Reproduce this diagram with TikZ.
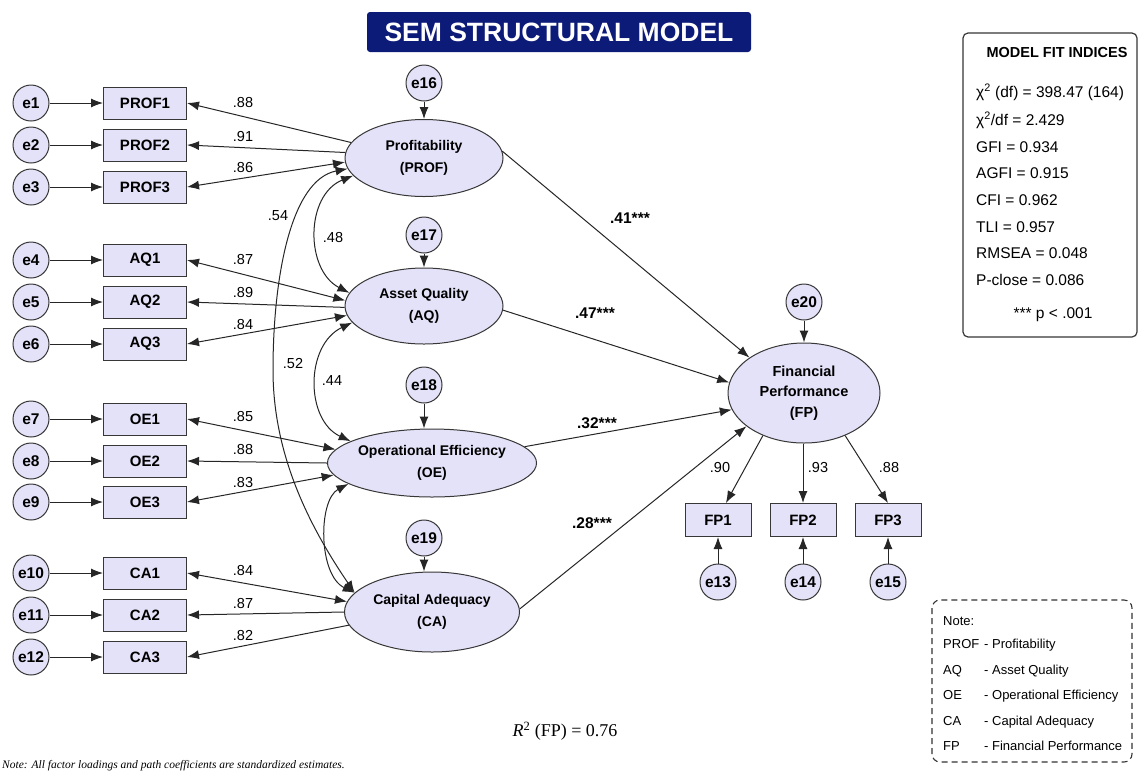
\documentclass[tikz,border=0pt]{standalone}
\usepackage{fontspec}
\setmainfont{Liberation Sans}
\newfontfamily\seriffont{Liberation Serif}
\usetikzlibrary{arrows.meta,shapes.geometric}
\definecolor{nodefill}{RGB}{228,226,248}
\definecolor{edgecol}{RGB}{55,55,55}
\definecolor{navy}{RGB}{12,26,120}
\begin{document}
\begin{tikzpicture}[x=1pt,y=-1pt,
  err/.style={circle,draw=edgecol,fill=nodefill,line width=1pt,minimum size=36pt,inner sep=0pt,font=\fontsize{15.5}{16}\selectfont\bfseries},
  obs/.style={rectangle,draw=edgecol,fill=nodefill,line width=1pt,minimum width=83pt,minimum height=32pt,inner sep=0pt,font=\fontsize{15}{16}\selectfont\bfseries},
  lat/.style={ellipse,draw=edgecol,fill=nodefill,line width=1pt,inner sep=0pt,align=center,font=\fontsize{14}{21.5}\selectfont\bfseries},
  arr/.style={-{Latex[length=12pt,width=9pt]},line width=1pt,draw=black!85},
  darr/.style={{Latex[length=12pt,width=9pt]}-{Latex[length=12pt,width=9pt]},line width=1pt,draw=black!85},
  lab/.style={font=\fontsize{14.5}{15}\selectfont,inner sep=0pt},
  blab/.style={font=\fontsize{15.5}{16}\selectfont\bfseries,inner sep=0pt},
  fit/.style={font=\fontsize{15.5}{16}\selectfont,anchor=base west,inner sep=0pt},
  notetxt/.style={font=\fontsize{13}{15}\selectfont,anchor=base west,inner sep=0pt},
]
\useasboundingbox (0,0) rectangle (1142,772);
\fill[white] (0,0) rectangle (1142,772);

% title
\node[fill=navy,rounded corners=3pt,minimum width=384pt,minimum height=40pt,inner sep=0pt,
  text=white,font=\fontsize{26.5}{28}\selectfont\bfseries] (title) at (559,32) {SEM STRUCTURAL MODEL};

% latent variables
\node[lat,minimum width=158pt,minimum height=77pt] (PROF) at (424,158) {Profitability\\(PROF)};
\node[lat,minimum width=158pt,minimum height=76pt] (AQ) at (424,306) {Asset Quality\\(AQ)};
\node[lat,minimum width=175pt,minimum height=68pt] (OE) at (432,463) {Operational Efficiency\\(OE)};
\node[lat,minimum width=175pt,minimum height=80pt] (CA) at (432,612) {Capital Adequacy\\(CA)};
\node[lat,minimum width=152pt,minimum height=100pt,font=\fontsize{14.5}{20.5}\selectfont\bfseries] (FP) at (804,393) {Financial\\Performance\\(FP)};

% indicators and errors (left)
\foreach \n/\t/\y in {1/PROF1/103,2/PROF2/145,3/PROF3/187,4/AQ1/260,5/AQ2/302,6/AQ3/344,
                      7/OE1/419,8/OE2/461,9/OE3/502,10/CA1/573,11/CA2/615,12/CA3/657}{
  \node[err] (e\n) at (31,\y) {e\n};
  \node[obs] (\t) at (145,\y) {\t};
  \draw[arr] (e\n.east) -- (\t.west);
}

% disturbances of latent variables
\node[err] (e16) at (424,83) {e16};
\node[err] (e17) at (424,235) {e17};
\node[err] (e18) at (424,385) {e18};
\node[err] (e19) at (424,538) {e19};
\node[err] (e20) at (804,302) {e20};
\draw[arr] (e16.south) -- (PROF.north);
\draw[arr] (e17.south) -- (AQ.north);
\draw[arr] (e18.south) -- (e18.south |- OE.north);
\draw[arr] (e19.south) -- (e19.south |- CA.north);
\draw[arr] (e20.south) -- (FP.north);

% FP indicators
\node[obs,minimum width=66pt,minimum height=33pt] (FP1) at (718,520) {FP1};
\node[obs,minimum width=66pt,minimum height=33pt] (FP2) at (803,520) {FP2};
\node[obs,minimum width=66pt,minimum height=33pt] (FP3) at (888,520) {FP3};
\node[err] (e13) at (718,582) {e13};
\node[err] (e14) at (803,582) {e14};
\node[err] (e15) at (888,582) {e15};
\draw[arr] (e13.north) -- (FP1.south);
\draw[arr] (e14.north) -- (FP2.south);
\draw[arr] (e15.north) -- (FP3.south);
\draw[arr] (FP.226) -- (FP1.65);
\draw[arr] (FP.south -| FP2.north) -- (FP2.north);
\draw[arr] (FP.314) -- (FP3.north);
\node[lab] (lfp1) at (720,467) {.90};
\node[lab] (lfp2) at (818,467) {.93};
\node[lab] (lfp3) at (889,467) {.88};

% loadings
\draw[arr] (PROF.168) -- (PROF1.east);
\draw[arr] (PROF.176) -- (PROF2.east);
\draw[darr] (PROF.183) -- (PROF3.east);
\draw[darr] (AQ.176) -- (AQ1.east);
\draw[arr] (AQ.181) -- (AQ2.east);
\draw[darr] (AQ.187) -- (AQ3.east);
\draw[darr] (OE.172) -- (OE1.east);
\draw[arr] (OE.180) -- (OE2.east);
\draw[darr] (OE.187) -- (OE3.east);
\draw[darr] (CA.173) -- (CA1.east);
\draw[arr] (CA.180) -- (CA2.east);
\draw[arr] (CA.189) -- (CA3.east);

\foreach \v/\y [count=\i] in {.88/103,.91/137,.86/168,.87/259,.89/292,.84/324,
                     .85/416,.88/449,.83/482,.84/570,.87/603,.82/635}{
  \node[lab] (ld\i) at (243,\y) {\v};
}

% correlations
\draw[darr] (PROF.194) .. controls (305,195) and (305,270) .. (AQ.170);
\draw[darr] (AQ.193) .. controls (305,345) and (305,420) .. (OE.165);
\draw[darr] (OE.194) .. controls (318,500) and (318,575) .. (CA.166);
\draw[darr] (PROF.188) .. controls (290,180) and (273,280) .. (273,370)
             .. controls (273,450) and (305,520) .. (CA.166);
\node[lab] (c54) at (278,216) {.54};
\node[lab] (c48) at (333,238) {.48};
\node[lab] (c52) at (293,363) {.52};
\node[lab] (c44) at (332,381) {.44};

% structural paths
\draw[arr] (PROF.5) -- (FP.147);
\draw[arr] (AQ.357) -- (FP.172);
\draw[arr] (OE.10) -- (FP.193);
\draw[arr] (CA.2) -- (FP.210);
\node[blab] (s41) at (630,218) {.41***};
\node[blab] (s47) at (595,313) {.47***};
\node[blab] (s32) at (597,423) {.32***};
\node[blab] (s28) at (592,523) {.28***};

% fit indices box
\draw[draw=edgecol,line width=1.2pt,rounded corners=5pt,fill=white] (963,33) rectangle (1137,337);
\node[font=\fontsize{14.5}{16}\selectfont\bfseries,inner sep=0pt] (fittitle) at (1057,53) {MODEL FIT INDICES};
\node[fit] (f1) at (976,97) {χ\textsuperscript{2} (df) = 398.47 (164)};
\node[fit] (f2) at (976,125) {χ\textsuperscript{2}/df = 2.429};
\node[fit] (f3) at (976,152) {GFI = 0.934};
\node[fit] (f4) at (976,178) {AGFI = 0.915};
\node[fit] (f5) at (976,205) {CFI = 0.962};
\node[fit] (f6) at (976,232) {TLI = 0.957};
\node[fit] (f7) at (976,258) {RMSEA = 0.048};
\node[fit] (f8) at (976,285) {P-close = 0.086};
\node[font=\fontsize{15.5}{16}\selectfont,inner sep=0pt] (f9) at (1053,315) {*** p < .001};

% note box
\draw[draw=black!80,line width=1.1pt,dash pattern=on 6pt off 4pt,rounded corners=8pt] (932,600) rectangle (1132,762);
\node[notetxt] (n0) at (943,625) {Note:};
\foreach \a/\d/\y [count=\i] in {PROF/Profitability/648,AQ/Asset Quality/674,OE/Operational Efficiency/699,CA/Capital Adequacy/725,FP/Financial Performance/750}{
  \node[notetxt] (na\i) at (943,\y) {\a};
  \node[notetxt] (nd\i) at (984,\y) {- \d};
}

% R squared
\node[font=\fontsize{18}{20}\selectfont\seriffont,inner sep=0pt] (r2) at (565,731) {\textit{R}\textsuperscript{2} (FP) = 0.76};

% bottom note
\node[font=\fontsize{11.5}{13}\selectfont\seriffont\itshape,anchor=base west,inner sep=0pt] (bnote) at (2,768) {Note: All factor loadings and path coefficients are standardized estimates.};
\end{tikzpicture}
\end{document}
